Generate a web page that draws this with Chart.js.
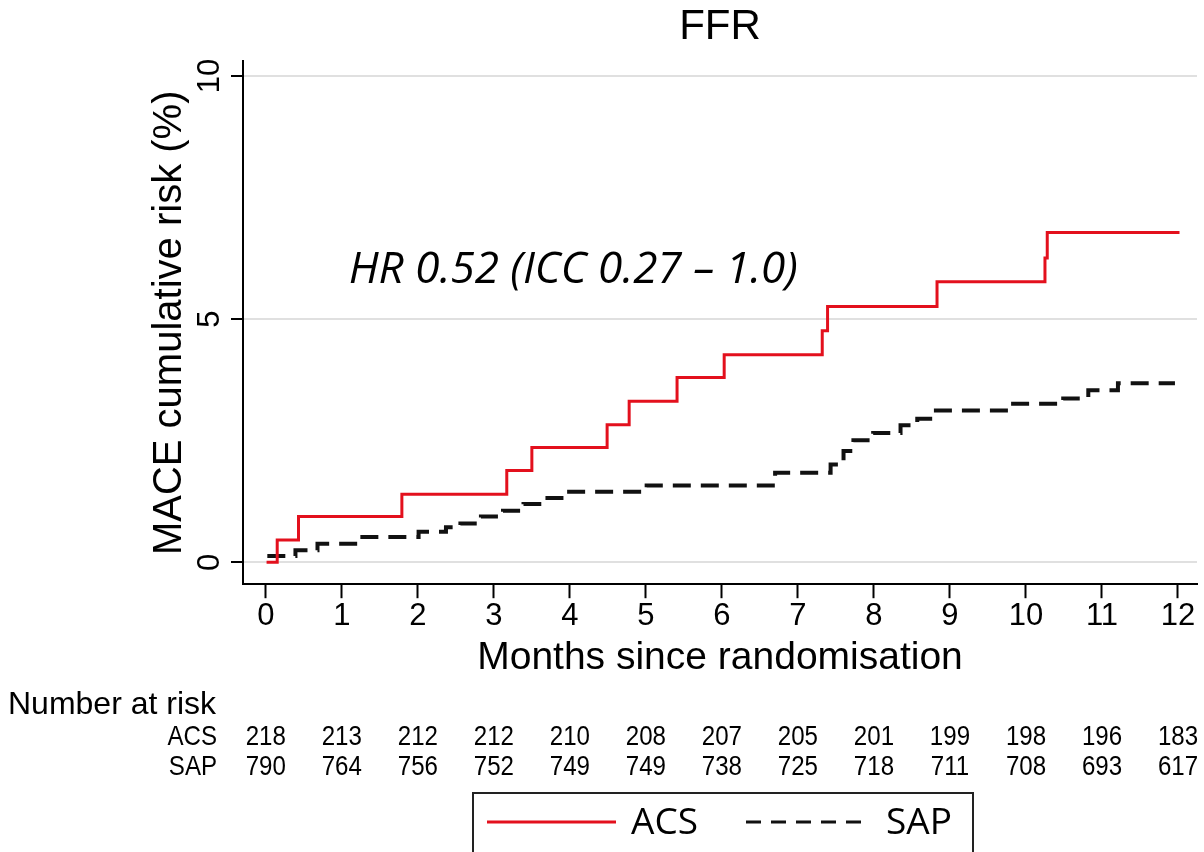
<!DOCTYPE html>
<html>
<head>
<meta charset="utf-8">
<style>
  html, body { margin: 0; padding: 0; background: #fff; }
  #wrap { width: 1204px; height: 852px; }
</style>
<script src="https://cdn.jsdelivr.net/npm/chart.js@4.4.0/dist/chart.umd.min.js"></script>
</head>
<body>
<div id="wrap"><canvas id="kmChart"></canvas></div>
<script>
// step points: month where the step happens, cumulative risk (%) from then on
const acsMonths = [0.01, 0.15, 0.43, 1.79, 3.17, 3.50, 4.49, 4.78, 5.41, 6.03, 7.32, 7.39, 8.83, 10.25, 10.28, 12.02];
const acsRisk = [0, 0.46, 0.94, 1.40, 1.89, 2.36, 2.83, 3.31, 3.80, 4.27, 4.76, 5.26, 5.77, 6.26, 6.78, 6.78];

const sapMonths = [0.02, 0.39, 0.68, 1.22, 2.01, 2.37, 2.56, 2.83, 3.12, 3.39, 3.65, 3.94, 5.01, 6.70, 7.43, 7.60, 7.73, 7.99, 8.35, 8.57, 8.77, 9.77, 10.49, 10.82, 11.21, 11.96];
const sapRisk = [0.13, 0.25, 0.38, 0.52, 0.63, 0.72, 0.80, 0.94, 1.06, 1.20, 1.32, 1.45, 1.58, 1.84, 2.01, 2.29, 2.51, 2.66, 2.82, 2.95, 3.12, 3.26, 3.37, 3.54, 3.68, 3.68];

// number at risk table
const riskMonths = [0, 1, 2, 3, 4, 5, 6, 7, 8, 9, 10, 11, 12];
const acsAtRisk = [218, 213, 212, 212, 210, 208, 207, 205, 201, 199, 198, 196, 183];
const sapAtRisk = [790, 764, 756, 752, 749, 749, 738, 725, 718, 711, 708, 693, 617];

const yTicks = [0, 5, 10];
const hrText = "HR 0.52 (ICC 0.27 \u2013 1.0)";

const RED = "#e3101d";
const ARIAL = "'Liberation Sans', Arial, sans-serif";
const CALIBRI = "'Open Sans', 'Noto Sans', sans-serif";

Chart.defaults.font.family = ARIAL;
Chart.defaults.color = "#000";

const toPoints = (xs, ys) => xs.map((m, i) => ({ x: m, y: ys[i] }));

// narrow text like the Stata table font
function narrowText(ctx, text, x, y, squeeze) {
    ctx.save();
    ctx.translate(x, y);
    ctx.scale(squeeze, 1);
    ctx.fillText(text, 0, 0);
    ctx.restore();
}

// HR text, number-at-risk table and boxed legend
const extrasPlugin = {
    id: "extras",
    afterDraw(chart) {
        const ctx = chart.ctx;
        const xs = chart.scales.x;
        const ys = chart.scales.y;
        const area = chart.chartArea;
        ctx.save();

        // HR annotation
        ctx.font = "italic 44px " + CALIBRI;
        ctx.fillStyle = "#000";
        ctx.textAlign = "left";
        ctx.textBaseline = "middle";
        ctx.fillText(hrText, xs.getPixelForValue(1.09), ys.getPixelForValue(6.0));

        // number at risk
        ctx.font = "32px " + ARIAL;
        ctx.fillText("Number at risk", 8, 705);
        ctx.font = "28px " + ARIAL;
        ctx.textAlign = "right";
        narrowText(ctx, "ACS", 217, 737, 0.86);
        narrowText(ctx, "SAP", 217, 767, 0.86);
        ctx.textAlign = "center";
        riskMonths.forEach((m, i) => {
            const px = xs.getPixelForValue(m);
            narrowText(ctx, String(acsAtRisk[i]), px, 737, 0.86);
            narrowText(ctx, String(sapAtRisk[i]), px, 767, 0.86);
        });

        // legend
        const cx = (area.left + area.right) / 2 + 3;
        const ly = chart.height - 30;
        ctx.strokeStyle = "#222";
        ctx.lineWidth = 2;
        ctx.strokeRect(cx - 250, ly - 29, 500, 60);

        ctx.lineWidth = 3;
        ctx.strokeStyle = RED;
        ctx.beginPath();
        ctx.moveTo(cx - 236, ly);
        ctx.lineTo(cx - 107, ly);
        ctx.stroke();

        ctx.strokeStyle = "#111";
        ctx.setLineDash([15, 10]);
        ctx.beginPath();
        ctx.moveTo(cx + 23, ly);
        ctx.lineTo(cx + 143, ly);
        ctx.stroke();
        ctx.setLineDash([]);

        ctx.font = "37px " + CALIBRI;
        ctx.textAlign = "left";
        ctx.fillText(chart.data.datasets[0].label, cx - 92, ly + 1);
        ctx.fillText(chart.data.datasets[1].label, cx + 163, ly + 1);
        ctx.restore();
    },
};

new Chart(document.getElementById("kmChart"), {
    type: "line",
    data: {
        datasets: [
            {
                label: "ACS",
                data: toPoints(acsMonths, acsRisk),
                borderColor: RED,
                borderWidth: 3,
                stepped: "before",
                pointRadius: 0,
                fill: false,
            },
            {
                label: "SAP",
                data: toPoints(sapMonths, sapRisk),
                borderColor: "#111",
                borderWidth: 4,
                borderDash: [18, 10],
                stepped: "before",
                pointRadius: 0,
                fill: false,
            },
        ],
    },
    options: {
        responsive: true,
        maintainAspectRatio: false,
        animation: false,
        devicePixelRatio: 1,
        layout: {
            padding: { left: 146, right: 7, top: 0, bottom: 170 },
        },
        plugins: {
            legend: { display: false },
            tooltip: { enabled: false },
            title: {
                display: true,
                text: "FFR",
                fullSize: false,
                font: { size: 42, weight: "normal" },
                color: "#000",
                padding: { top: 2, bottom: 9 },
            },
        },
        scales: {
            x: {
                type: "linear",
                min: -0.3,
                max: 12.25,
                afterBuildTicks: (scale) => {
                    scale.ticks = riskMonths.map((v) => ({ value: v }));
                },
                ticks: {
                    font: { size: 31, lineHeight: 1 },
                    color: "#000",
                    padding: 3,
                    maxRotation: 0,
                },
                grid: {
                    drawOnChartArea: false,
                    drawTicks: true,
                    tickLength: 14,
                    tickColor: "#000",
                    tickWidth: 2,
                },
                border: { color: "#000", width: 2 },
                title: {
                    display: true,
                    text: "Months since randomisation",
                    font: { size: 39 },
                    color: "#000",
                    padding: { top: 0, bottom: 0 },
                },
            },
            y: {
                min: -0.45,
                max: 10.3,
                afterBuildTicks: (scale) => {
                    scale.ticks = yTicks.map((v) => ({ value: v }));
                },
                ticks: {
                    font: { size: 31, lineHeight: 1 },
                    color: "#000",
                    padding: 3,
                    minRotation: 90,
                    maxRotation: 90,
                    crossAlign: "center",
                },
                grid: {
                    color: "#e0e0e0",
                    lineWidth: 2,
                    drawTicks: true,
                    tickLength: 12,
                    tickColor: "#000",
                    tickWidth: 2,
                },
                border: { color: "#000", width: 2 },
                title: {
                    display: true,
                    text: "MACE cumulative risk (%)",
                    font: { size: 40 },
                    color: "#000",
                    padding: { top: 0, bottom: 0 },
                },
            },
        },
    },
    plugins: [extrasPlugin],
});
</script>
</body>
</html>
